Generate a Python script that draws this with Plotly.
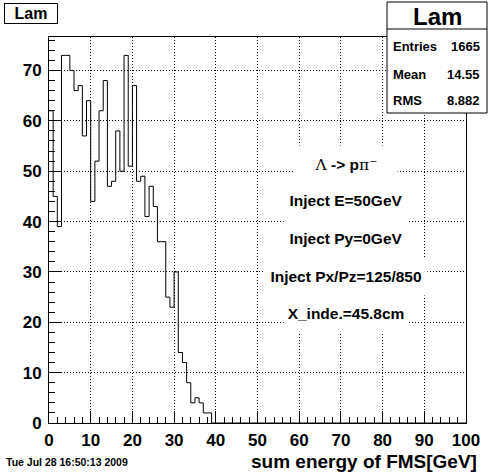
import plotly.graph_objects as go

# ---- data (1 GeV bins, 0..100 GeV) ----
counts_filled = [62, 45, 39, 73, 73, 70, 66, 67, 57, 64,
                 44, 52, 62, 68, 47, 48, 58, 50, 73, 51,
                 67, 48, 49, 41, 47, 43, 36, 36, 25, 23,
                 30, 14, 12, 8, 4, 5, 4, 2, 2]
counts_empty = [0] * (100 - len(counts_filled))
counts = counts_filled + counts_empty
bin_edges = list(range(0, 101))

x_tick_vals = [0, 10, 20, 30, 40, 50, 60, 70, 80, 90, 100]
y_tick_vals = [0, 10, 20, 30, 40, 50, 60, 70]

hist_name = "Lam"
stats_labels = ["Entries", "Mean", "RMS"]
stats_values = ["1665", "14.55", "8.882"]
text_lines = [
    "<span style='font-family:DejaVu Serif;font-weight:normal'>Λ</span> -> p"
    "<span style='font-family:DejaVu Serif;font-weight:normal'>π⁻</span>",
    "Inject E=50GeV",
    "Inject Py=0GeV",
    "Inject Px/Pz=125/850",
    "X_inde.=45.8cm",
]
x_title = "sum energy of FMS[GeV]"
date_text = "Tue Jul 28 16:50:13 2009"

FONT = "Liberation Sans, Arial, Helvetica, sans-serif"
W, H = 496, 472
ML, MR, MT, MB = 49, 30, 37, 49
PW, PH = W - ML - MR, H - MT - MB


def P(xpx, ypx):
    return (xpx - ML) / PW, (H - MB - ypx) / PH


fig = go.Figure()
fig.add_trace(go.Scatter(
    x=bin_edges,
    y=counts + [counts[-1]],
    mode="lines",
    line=dict(color="black", width=1, shape="hv"),
    hoverinfo="skip",
    showlegend=False,
))

axis_common = dict(
    showline=True, linecolor="black", linewidth=1, mirror=True,
    ticks="inside", ticklen=12, tickwidth=1, tickcolor="black",
    showgrid=True, gridcolor="black", gridwidth=1, griddash="1px,2px",
    zeroline=False,
    tickfont=dict(family=FONT, size=17, color="black", weight="bold"),
    minor=dict(ticks="inside", ticklen=6, dtick=2, tickcolor="black",
               tickwidth=1, showgrid=False),
)

fig.update_layout(
    width=W, height=H,
    margin=dict(l=ML, r=MR, t=MT, b=MB),
    paper_bgcolor="white", plot_bgcolor="white",
    showlegend=False,
    xaxis=dict(range=[0, 100], tickvals=x_tick_vals, ticklabelstandoff=2,
               **axis_common),
    yaxis=dict(range=[0, 76.65], tickvals=y_tick_vals, ticklabelstandoff=3,
               **axis_common),
)

annots = []
# histogram title box
cx, cy = P(31, 13.5)
annots.append(dict(text="<b>" + hist_name + "</b>", x=cx, y=cy, xref="paper", yref="paper",
                   xanchor="center", yanchor="middle", showarrow=False,
                   font=dict(family=FONT, size=16, color="black"),
                   bgcolor="white", bordercolor="black", borderwidth=1,
                   width=52, height=19, borderpad=0))

# stats box
x0, y0 = P(387, 113)
x1, y1 = P(487, 2)
_, ysep = P(0, 29)
fig.add_shape(type="rect", xref="paper", yref="paper", x0=x0, y0=y0, x1=x1, y1=y1,
              line=dict(color="black", width=1), fillcolor="white", layer="above")
fig.add_shape(type="line", xref="paper", yref="paper", x0=x0, y0=ysep, x1=x1, y1=ysep,
              line=dict(color="black", width=1), layer="above")
tx, ty = P(437, 16)
annots.append(dict(text="<b>" + hist_name + "</b>", x=tx, y=ty, xref="paper", yref="paper",
                   xanchor="center", yanchor="middle", showarrow=False,
                   font=dict(family=FONT, size=24, color="black")))
row_y = [47, 74, 100]
for lab, val, ry in zip(stats_labels, stats_values, row_y):
    lx, ly = P(391, ry)
    rx, _ = P(482, ry)
    annots.append(dict(text="<b>" + lab + "</b>", x=lx, y=ly, xref="paper", yref="paper",
                       xanchor="left", yanchor="middle", showarrow=False,
                       font=dict(family=FONT, size=13, color="black")))
    annots.append(dict(text="<b>" + val + "</b>", x=rx, y=ly, xref="paper", yref="paper",
                       xanchor="right", yanchor="middle", showarrow=False,
                       font=dict(family=FONT, size=13, color="black")))

# text lines in the plot
line_y = [164, 201, 238.5, 276, 313]
box_w = [102, 124, 124, 162, 124]
for t, ly_px, bw in zip(text_lines, line_y, box_w):
    ax, ay = P(346, ly_px)
    annots.append(dict(text="<b>" + t + "</b>", x=ax, y=ay, xref="paper", yref="paper",
                       xanchor="center", yanchor="middle", showarrow=False,
                       font=dict(family=FONT, size=15.5, color="black"),
                       bgcolor="white", width=bw, height=37, borderpad=0))

# x title
xx, xy = P(479, 462)
annots.append(dict(text="<b>" + x_title + "</b>", x=xx, y=xy, xref="paper", yref="paper",
                   xanchor="right", yanchor="middle", showarrow=False,
                   font=dict(family=FONT, size=19, color="black")))
# date
dx, dy = P(4, 462)
annots.append(dict(text="<b>" + date_text + "</b>", x=dx, y=dy, xref="paper", yref="paper",
                   xanchor="left", yanchor="middle", showarrow=False,
                   font=dict(family=FONT, size=10.5, color="black")))

fig.update_layout(annotations=annots)
fig.write_html("out.html",
               config={"displayModeBar": False},
               post_script="document.body.style.margin='0';document.body.style.overflow='hidden';")
